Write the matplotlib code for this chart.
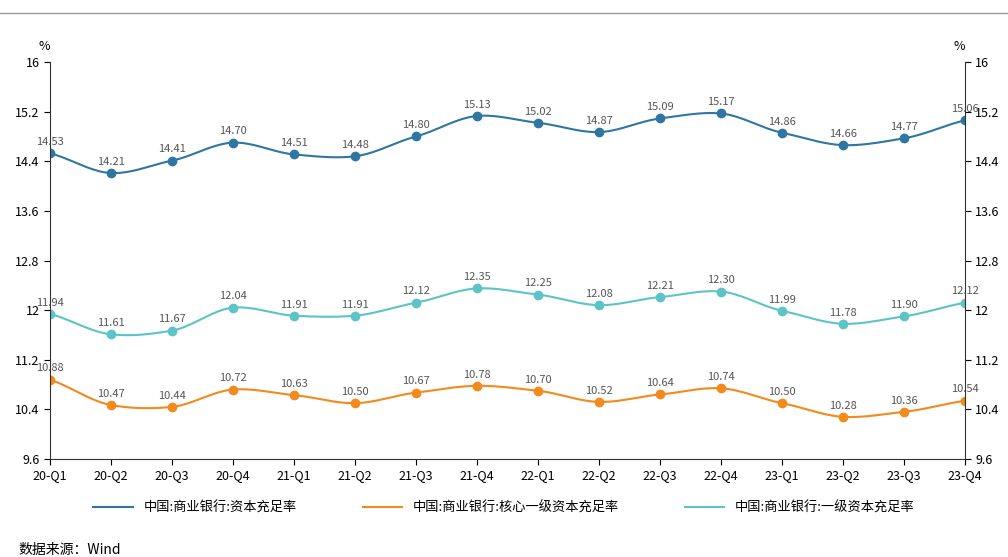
import numpy as np
import matplotlib.pyplot as plt

plt.rcParams['font.family'] = ['Noto Sans CJK SC', 'DejaVu Sans']

quarters = ['20-Q1', '20-Q2', '20-Q3', '20-Q4', '21-Q1', '21-Q2', '21-Q3', '21-Q4',
            '22-Q1', '22-Q2', '22-Q3', '22-Q4', '23-Q1', '23-Q2', '23-Q3', '23-Q4']
car = [14.53, 14.21, 14.41, 14.70, 14.51, 14.48, 14.80, 15.13,
       15.02, 14.87, 15.09, 15.17, 14.86, 14.66, 14.77, 15.06]
core_t1 = [10.88, 10.47, 10.44, 10.72, 10.63, 10.50, 10.67, 10.78,
           10.70, 10.52, 10.64, 10.74, 10.50, 10.28, 10.36, 10.54]
tier1 = [11.94, 11.61, 11.67, 12.04, 11.91, 11.91, 12.12, 12.35,
         12.25, 12.08, 12.21, 12.30, 11.99, 11.78, 11.90, 12.12]
names = ['中国:商业银行:资本充足率', '中国:商业银行:核心一级资本充足率', '中国:商业银行:一级资本充足率']
colors = ['#2f76a3', '#f28a1c', '#5cc3c6']


def smooth(y, n=20):
    # cardinal spline through the points, for the curved look
    y = np.asarray(y, float)
    m = np.gradient(y) * 0.8
    xs, ys = [], []
    for i in range(len(y) - 1):
        t = np.linspace(0, 1, n, endpoint=False)
        h00 = 2*t**3 - 3*t**2 + 1; h10 = t**3 - 2*t**2 + t
        h01 = -2*t**3 + 3*t**2; h11 = t**3 - t**2
        xs.append(i + t)
        ys.append(h00*y[i] + h10*m[i] + h01*y[i+1] + h11*m[i+1])
    xs.append([len(y) - 1]); ys.append([y[-1]])
    return np.concatenate(xs), np.concatenate(ys)


fig = plt.figure(figsize=(10.08, 5.57), dpi=100)
ax = fig.add_axes([50/1008, 1-459/557, 915/1008, 397/557])
x = np.arange(len(quarters))
for s, c, name in zip([car, core_t1, tier1], colors, names):
    sx, sy = smooth(s)
    ax.plot(sx, sy, color=c, lw=1.5, label=name)
    ax.plot(x, s, 'o', color=c, ms=6)
    for xi, v in zip(x, s):
        ax.text(xi, v + 0.1, f'{v:.2f}', ha='center', va='bottom', fontsize=8, color='#555555')

ax.set_xlim(0, len(quarters) - 1)
ax.set_ylim(9.6, 16)
yt = np.arange(9.6, 16.01, 0.8)
ylab = ['9.6', '10.4', '11.2', '12', '12.8', '13.6', '14.4', '15.2', '16']
ax.set_yticks(yt, ylab)
ax.set_xticks(x, quarters)
ax.tick_params(axis='both', labelsize=9, direction='out', length=4)
ax.tick_params(axis='y', right=True, labelright=True)
ax.spines['top'].set_visible(False)
for sp in ['left', 'right', 'bottom']:
    ax.spines[sp].set_color('#333333')
ax.text(0, 1.03, '%', transform=ax.transAxes, ha='right', fontsize=9)
ax.text(1, 1.03, '%', transform=ax.transAxes, ha='right', fontsize=9)

fig.add_artist(plt.Line2D([0, 1], [1-13/557]*2, color='#999999', lw=1))
fig.legend(loc='center', bbox_to_anchor=(0.5, 1-508/557), ncol=3, frameon=False,
           fontsize=9.5, handlelength=3, columnspacing=5)
fig.text(18/1008, 1-550/557, '数据来源：Wind', fontsize=10, va='center')
fig.savefig('out.png')
